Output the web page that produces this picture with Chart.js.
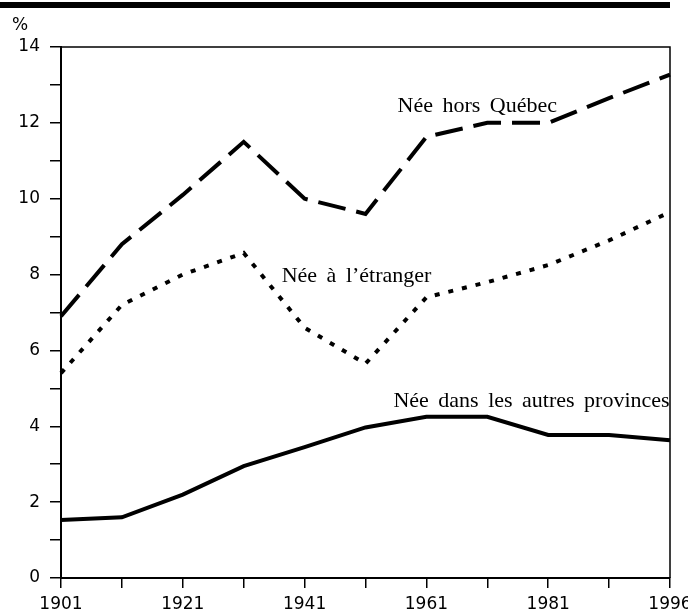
<!DOCTYPE html>
<html>
<head>
<meta charset="utf-8">
<script src="https://cdn.jsdelivr.net/npm/chart.js@4.4.0/dist/chart.umd.min.js"></script>
<style>
  html, body { margin: 0; padding: 0; background: #fff; }
  #wrap { width: 688px; height: 615px; }
</style>
</head>
<body>
<div id="wrap"><canvas id="myChart" width="688" height="615"></canvas></div>
<script>
// census years (only every other one gets a label)
var years = ['1901', '1911', '1921', '1931', '1941', '1951', '1961', '1971', '1981', '1991', '1996'];
var horsQuebec = [6.9, 8.8, 10.1, 11.5, 10.0, 9.6, 11.63, 12.0, 12.0, 12.65, 13.27];
var etranger = [5.4, 7.2, 8.0, 8.57, 6.6, 5.65, 7.4, 7.8, 8.25, 8.9, 9.65];
var autresProvinces = [1.53, 1.6, 2.2, 2.95, 3.45, 3.97, 4.25, 4.25, 3.77, 3.77, 3.63];
var seriesNames = ['Née hors Québec', 'Née à l’étranger', 'Née dans les autres provinces'];
var yTicks = [0, 2, 4, 6, 8, 10, 12, 14];

var tickFont = { family: '"DejaVu Sans", sans-serif', size: 17 };
var serif = '22px "Liberation Serif", "DejaVu Serif", serif';

// frame, top bar, % sign and the line labels
var decor = {
    id: 'decor',
    afterDraw: function (chart) {
        var ctx = chart.ctx;
        var a = chart.chartArea;
        var xs = chart.scales.x, ys = chart.scales.y;
        ctx.save();
        ctx.fillStyle = '#000';
        ctx.fillRect(0, 2, a.right, 6);

        ctx.strokeStyle = '#000';
        ctx.lineWidth = 1.5;
        ctx.beginPath();
        ctx.moveTo(a.left, a.top);
        ctx.lineTo(a.right, a.top);
        ctx.lineTo(a.right, a.bottom);
        ctx.stroke();

        ctx.font = '17px "DejaVu Sans", sans-serif';
        ctx.textBaseline = 'alphabetic';
        ctx.fillText('%', 12, 30);

        ctx.font = serif;
        ctx.wordSpacing = '4px';
        ctx.textAlign = 'left';
        ctx.fillText(seriesNames[0], xs.getPixelForValue(5) + 32, ys.getPixelForValue(12.29));
        ctx.fillText(seriesNames[1], xs.getPixelForValue(3) + 38, ys.getPixelForValue(7.8));
        ctx.fillText(seriesNames[2], xs.getPixelForValue(6) - 33, ys.getPixelForValue(4.5));
        ctx.restore();
    }
};

var ctx = document.getElementById('myChart').getContext('2d');
var chart = new Chart(ctx, {
    type: 'line',
    data: {
        labels: years,
        datasets: [{
            label: seriesNames[0],
            data: horsQuebec,
            borderColor: '#000',
            borderWidth: 4,
            borderDash: [28, 11],
            pointRadius: 0,
            tension: 0
        }, {
            label: seriesNames[1],
            data: etranger,
            borderColor: '#000',
            borderWidth: 4,
            borderDash: [5, 9],
            pointRadius: 0,
            tension: 0
        }, {
            label: seriesNames[2],
            data: autresProvinces,
            borderColor: '#000',
            borderWidth: 4,
            pointRadius: 0,
            tension: 0
        }]
    },
    options: {
        responsive: false,
        animation: false,
        layout: { padding: { top: 47, right: 18, left: 0, bottom: 0 } },
        plugins: { legend: { display: false }, tooltip: { enabled: false } },
        scales: {
            x: {
                type: 'category',
                offset: false,
                grid: { drawOnChartArea: false, drawTicks: true, tickLength: 10, color: '#000', lineWidth: 1.5 },
                border: { color: '#000', width: 2 },
                ticks: {
                    autoSkip: false,
                    maxRotation: 0,
                    color: '#000',
                    font: tickFont,
                    padding: 6,
                    callback: function (v, i) { return i % 2 === 0 ? years[i] : ''; }
                },
                afterFit: function (s) { s.height = 37; s.paddingLeft = 0; s.paddingRight = 0; }
            },
            y: {
                min: yTicks[0],
                max: yTicks[yTicks.length - 1],
                grid: { drawOnChartArea: false, drawTicks: true, tickLength: 11, color: '#000', lineWidth: 1.5 },
                border: { color: '#000', width: 2 },
                ticks: {
                    stepSize: 1,
                    color: '#000',
                    font: tickFont,
                    padding: 10,
                    callback: function (v) { return yTicks.indexOf(v) >= 0 ? v : ''; }
                },
                afterFit: function (s) { s.width = 61; }
            }
        }
    },
    plugins: [decor]
});
</script>
</body>
</html>
